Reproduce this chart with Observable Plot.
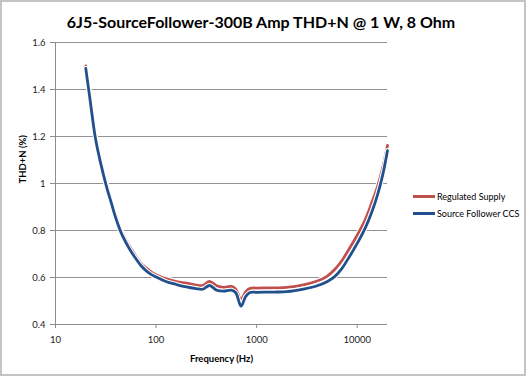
<!DOCTYPE html>
<html>
<head>
<meta charset="utf-8">
<script src="https://cdn.jsdelivr.net/npm/d3@7"></script>
<script src="https://cdn.jsdelivr.net/npm/@observablehq/plot@0.6"></script>
<style>
  body { margin: 0; background: #fff; font-family: Lato, "Open Sans", sans-serif; }
  #wrap { position: relative; width: 529px; height: 378px; }
  #frame { position: absolute; left: 0; top: 0; width: 522px; height: 372px; border: 2px solid #c4c4c4; pointer-events: none; }
  #title { position: absolute; left: 0; width: 522px; top: 12px; text-align: center; font-weight: bold; font-size: 16px; color: #000; }
  #chart { position: absolute; left: 0; top: 0; }
  .leg { position: absolute; left: 413px; font-size: 9px; color: #000; display: flex; align-items: center; white-space: nowrap; }
  .leg span.sw { display: inline-block; width: 22px; height: 3px; margin-right: 2px; }
</style>
</head>
<body>
<div id="wrap">
  <div id="chart"></div>
  <div id="title">6J5-SourceFollower-300B Amp THD+N @ 1 W, 8 Ohm</div>
  <div id="legend"></div>
  <div id="frame"></div>
</div>
<script>
const freqs = [20, 22, 25, 28, 32, 36, 40, 45, 50, 56, 63, 71, 80, 90, 100, 125, 160, 200, 250, 290, 340, 400, 470, 560, 620, 700, 780, 860, 1000, 1500, 2000, 3000, 4000, 5000, 6000, 7000, 8000, 10000, 12000, 14000, 16000, 18000, 20000];
const regulatedSupply = [1.50, 1.37, 1.20, 1.10, 1.00, 0.925, 0.86, 0.80, 0.76, 0.725, 0.69, 0.66, 0.64, 0.623, 0.612, 0.595, 0.583, 0.576, 0.568, 0.566, 0.583, 0.565, 0.558, 0.562, 0.55, 0.507, 0.54, 0.554, 0.555, 0.556, 0.558, 0.57, 0.585, 0.605, 0.635, 0.67, 0.71, 0.78, 0.845, 0.92, 0.99, 1.07, 1.162];
const sourceFollowerCCS = [1.49, 1.36, 1.19, 1.09, 0.99, 0.915, 0.85, 0.79, 0.75, 0.713, 0.68, 0.65, 0.628, 0.612, 0.602, 0.583, 0.57, 0.56, 0.553, 0.55, 0.566, 0.546, 0.542, 0.546, 0.535, 0.478, 0.52, 0.536, 0.537, 0.538, 0.54, 0.552, 0.565, 0.582, 0.605, 0.637, 0.675, 0.745, 0.81, 0.88, 0.955, 1.04, 1.14];
const seriesNames = ["Regulated Supply", "Source Follower CCS"];
const seriesColors = ["#C0504D", "#22508C"];
const xTicks = [10, 100, 1000, 10000];
const yTicks = [0.4, 0.6, 0.8, 1.0, 1.2, 1.4, 1.6];
const yTickLabels = ["0.4", "0.6", "0.8", "1", "1.2", "1.4", "1.6"];

const rows = [];
seriesNames.forEach((name, si) => {
  const vals = si === 0 ? regulatedSupply : sourceFollowerCCS;
  freqs.forEach((f, i) => rows.push({series: name, f, v: vals[i]}));
});

const chart = Plot.plot({
  width: 529,
  height: 378,
  marginLeft: 55,
  marginRight: 142,
  marginTop: 42,
  marginBottom: 54,
  style: { fontFamily: "Lato, 'Open Sans', sans-serif", fontSize: "9.5px", color: "#222", background: "transparent" },
  x: { type: "log", domain: [10, 20000], ticks: xTicks, tickFormat: d => String(d), label: null },
  y: { domain: [0.4, 1.6], ticks: yTicks, tickFormat: (d, i) => yTickLabels[yTicks.indexOf(d)], label: null },
  marks: [
    Plot.ruleY(yTicks.filter(t => t > 0.4), { stroke: "#929292", strokeWidth: 1, strokeOpacity: 1 }),
    Plot.ruleY([0.4], { stroke: "#8c8c8c", strokeWidth: 1 }),
    Plot.ruleX([10], { stroke: "#8c8c8c", strokeWidth: 1 }),
    Plot.axisY({ ticks: yTicks, tickSize: 5, tickPadding: 5, tickFormat: d => yTickLabels[yTicks.indexOf(d)], stroke: "#8c8c8c", label: null }),
    Plot.axisX({ ticks: xTicks, tickSize: 4, tickPadding: 8, tickFormat: d => String(d), stroke: "#8c8c8c", label: null }),
    ...seriesNames.map((name, si) => [
      Plot.line(rows.filter(r => r.series === name), { x: "f", y: "v", stroke: "white", strokeWidth: 5, curve: "catmull-rom" }),
      Plot.line(rows.filter(r => r.series === name), { x: "f", y: "v", stroke: seriesColors[si], strokeWidth: 2.8, curve: "catmull-rom" })
    ]).flat(),
    Plot.text(["Frequency (Hz)"], { frameAnchor: "bottom", dy: 37, fontWeight: "bold", fontSize: 9.5, fill: "#000" }),
    Plot.text(["THD+N (%)"], { frameAnchor: "left", dx: -33, rotate: -90, fontWeight: "bold", fontSize: 9.5, fill: "#000" })
  ]
});
document.getElementById("chart").appendChild(chart);

const leg = document.getElementById("legend");
seriesNames.forEach((name, i) => {
  const d = document.createElement("div");
  d.className = "leg";
  d.style.top = (191 + i * 17) + "px";
  d.innerHTML = `<span class="sw" style="background:${seriesColors[i]}"></span><span>${name}</span>`;
  leg.appendChild(d);
});
</script>
</body>
</html>
